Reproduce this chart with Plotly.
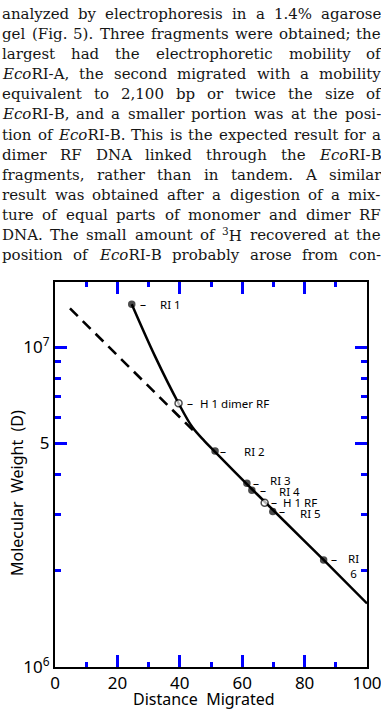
import re
import math
import plotly.graph_objects as go

# ---------------- data ----------------
paragraph_lines = [
    "analyzed by electrophoresis in a 1.4% agarose",
    "gel (Fig. 5). Three fragments were obtained; the",
    "largest had the electrophoretic mobility of",
    "<i>Eco</i>RI-A, the second migrated with a mobility",
    "equivalent to 2,100 bp or twice the size of",
    "<i>Eco</i>RI-B, and a smaller portion was at the posi-",
    "tion of <i>Eco</i>RI-B. This is the expected result for a",
    "dimer RF DNA linked through the <i>Eco</i>RI-B",
    "fragments, rather than in tandem. A similar",
    "result was obtained after a digestion of a mix-",
    "ture of equal parts of monomer and dimer RF",
    "DNA. The small amount of <sup>3</sup>H recovered at the",
    "position of <i>Eco</i>RI-B probably arose from con-",
]

curve_dist = [24.6, 32.0, 39.6, 44.0, 48.0, 51.3, 61.5, 69.8, 86.1, 100.0]
curve_mw = [1.36e7, 9.38e6, 6.67e6, 5.62e6, 5.07e6, 4.70e6, 3.73e6, 3.10e6, 2.16e6, 1.58e6]

dash_dist = [4.8, 44.4]
dash_mw = [1.32e7, 5.47e6]

frag_labels = ["RI 1", "H 1 dimer RF", "RI 2", "RI 3", "RI 4", "H 1 RF", "RI 5", "RI<br>6"]
frag_dist = [24.6, 39.6, 51.3, 61.5, 63.1, 67.2, 69.8, 86.1]
frag_mw = [1.36e7, 6.67e6, 4.73e6, 3.75e6, 3.57e6, 3.26e6, 3.06e6, 2.16e6]
frag_open = [False, True, False, False, False, True, False, False]

x_tickvals = [0, 20, 40, 60, 80, 100]
x_minor = [10, 30, 50, 70, 90]
y_tickvals = [1e6, 5e6, 1e7]
y_ticktext = ["10<sup>6</sup>", "5", "10<sup>7</sup>"]
y_minor = [2e6, 3e6, 4e6, 6e6, 7e6, 8e6, 9e6]

# ---------------- geometry / style ----------------
FW, FH = 381, 713
ML, MR, MT, MB = 55, 14, 282, 46
PW = FW - ML - MR
PH = FH - MT - MB
Y_RANGE = [6, 6 + PH / 320]


def px_x(px):
    return (px - ML) / PW


def px_y(py):
    return (FH - MB - py) / PH


SERIF = "DejaVu Serif"
SANS = "Noto Sans"
TXT_SIZE = 15
TICK_INK = "blue"

W = {
    ' ': .318, 'a': .596, 'b': .640, 'c': .560, 'd': .640, 'e': .592, 'f': .370,
    'g': .640, 'h': .644, 'i': .320, 'j': .310, 'k': .606, 'l': .320, 'm': .948,
    'n': .644, 'o': .602, 'p': .640, 'q': .640, 'r': .478, 's': .513, 't': .402,
    'u': .644, 'v': .565, 'w': .856, 'x': .564, 'y': .565, 'z': .527,
    'A': .722, 'B': .735, 'C': .720, 'D': .802, 'E': .732, 'F': .691, 'G': .776,
    'H': .872, 'I': .395, 'J': .401, 'K': .769, 'L': .683, 'M': 1.0, 'N': .836,
    'O': .787, 'P': .673, 'Q': .787, 'R': .770, 'S': .688, 'T': .680, 'U': .817,
    'V': .722, 'W': 1.03, 'X': .722, 'Y': .683, 'Z': .693,
    '.': .318, ',': .318, ';': .337, ':': .337, '-': .338, '(': .390, ')': .390,
    '%': .950,
}
for d in "0123456789":
    W[d] = .636


def text_w(s, size):
    total, scale = 0.0, 1.0
    for tok in re.split(r'(<[^>]+>)', s):
        if tok.startswith('<'):
            if tok == '<sup>':
                scale = 0.7
            elif tok == '</sup>':
                scale = 1.0
            continue
        for ch in tok:
            total += W.get(ch, 0.6) * scale
    return total * size


annotations = []

X0, X1 = 1, 380
LINE_Y0, LINE_DY = 14, 20.1
for i, line in enumerate(paragraph_lines):
    words = line.split(' ')
    widths = [text_w(w, TXT_SIZE) for w in words]
    gap = (X1 - X0 - sum(widths)) / (len(words) - 1)
    x = X0
    py = LINE_Y0 + i * LINE_DY
    for w, wd in zip(words, widths):
        annotations.append(dict(
            text=w, x=px_x(x), y=px_y(py), xref="paper", yref="paper",
            xanchor="left", yanchor="middle", showarrow=False, borderpad=0,
            font=dict(family=SERIF, size=TXT_SIZE, color="#151515"),
        ))
        x += wd + gap

label_offsets = [
    (11, 26, 0), (11, 19, 0), (8, 27, 0), (9, 21, 3),
    (11, 25, -1), (9, 16, 0), (9, 25, -1.5), (10, 30, -6.5),
]
for lab, xd, yd, (dx, tx, ty) in zip(frag_labels, frag_dist, frag_mw, label_offsets):
    annotations.append(dict(
        text="–", x=xd, y=math.log10(yd), xref="x", yref="y",
        xanchor="center", yanchor="middle", xshift=dx, showarrow=False,
        font=dict(family=SANS, size=12, color="black"),
    ))
    annotations.append(dict(
        text=lab, x=xd, y=math.log10(yd), xref="x", yref="y",
        xanchor="center" if "<br>" in lab else "left", yanchor="middle",
        xshift=tx, yshift=ty, showarrow=False, align="center",
        font=dict(family=SANS, size=11.5, color="black"),
    ))

annotations.append(dict(
    text="Distance  Migrated", x=px_x(204), y=px_y(699), xref="paper", yref="paper",
    xanchor="center", yanchor="middle", showarrow=False,
    font=dict(family=SANS, size=16, color="black"),
))
annotations.append(dict(
    text="Molecular  Weight  (D)", x=px_x(17), y=px_y(493), xref="paper", yref="paper",
    xanchor="center", yanchor="middle", showarrow=False, textangle=-90,
    font=dict(family=SANS, size=16, color="black"),
))

fig = go.Figure()
fig.add_trace(go.Scatter(
    x=dash_dist, y=dash_mw, mode="lines",
    line=dict(color="black", width=2.6, dash="11px,7px"),
    hoverinfo="skip", showlegend=False,
))
fig.add_trace(go.Scatter(
    x=curve_dist, y=curve_mw, mode="lines", line=dict(color="black", width=2.5),
    line_shape="spline", hoverinfo="skip", showlegend=False,
))
fig.add_trace(go.Scatter(
    x=frag_dist, y=frag_mw, mode="markers",
    marker=dict(
        size=[7 if o else 6 for o in frag_open],
        color=["white" if o else "black" for o in frag_open],
        line=dict(color="black", width=1.5),
    ),
    hoverinfo="skip", showlegend=False,
))

lab_font = dict(family=SANS, size=17, color="black")

fig.update_layout(
    width=FW, height=FH, margin=dict(l=ML, r=MR, t=MT, b=MB),
    paper_bgcolor="white", plot_bgcolor="white",
    annotations=annotations, showlegend=False,
    xaxis=dict(range=[0, 100], tickmode="array", tickvals=x_tickvals,
               ticks="inside", ticklen=12, tickwidth=3, tickcolor=TICK_INK,
               showline=True, linecolor="black", linewidth=2, mirror="ticks",
               showgrid=False, zeroline=False, tickfont=lab_font, automargin=False,
               ticklabeloverflow="allow",
               minor=dict(tickvals=x_minor, ticks="inside", ticklen=5, tickwidth=3,
                          tickcolor=TICK_INK)),
    yaxis=dict(type="log", range=Y_RANGE, tickmode="array", tickvals=y_tickvals,
               ticktext=y_ticktext, ticks="inside", ticklen=12, tickwidth=3,
               tickcolor=TICK_INK, showline=True, linecolor="black", linewidth=2,
               mirror="ticks", showgrid=False, zeroline=False, tickfont=lab_font,
               automargin=False, ticklabeloverflow="allow",
               minor=dict(tickvals=y_minor, ticks="inside", ticklen=6, tickwidth=3,
                          tickcolor=TICK_INK)),
)
fig.write_html("out.html")
